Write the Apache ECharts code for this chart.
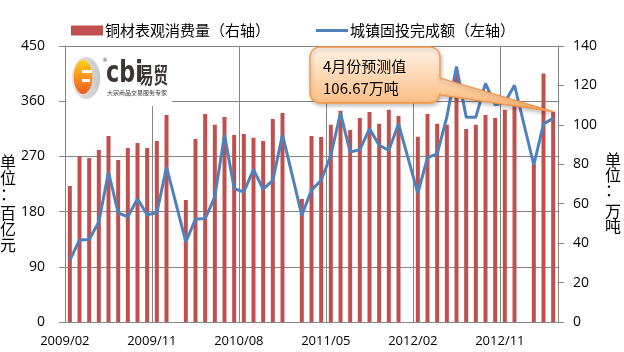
<!DOCTYPE html>
<html>
<head>
<meta charset="utf-8">
<script src="https://cdn.jsdelivr.net/npm/echarts@6/dist/echarts.min.js"></script>
<style>
html, body { margin: 0; padding: 0; background: #fff; }
#main { width: 624px; height: 352px; }
</style>
</head>
<body>
<div id="main"></div>
<script>
var months = [
    '2009/02', '2009/03', '2009/04', '2009/05', '2009/06', '2009/07', '2009/08', '2009/09', '2009/10', '2009/11', '2009/12',
    '2010/01', '2010/02', '2010/03', '2010/04', '2010/05', '2010/06', '2010/07', '2010/08', '2010/09', '2010/10', '2010/11', '2010/12',
    '2011/01', '2011/02', '2011/03', '2011/04', '2011/05', '2011/06', '2011/07', '2011/08', '2011/09', '2011/10', '2011/11', '2011/12',
    '2012/01', '2012/02', '2012/03', '2012/04', '2012/05', '2012/06', '2012/07', '2012/08', '2012/09', '2012/10', '2012/11', '2012/12',
    '2013/01', '2013/02', '2013/03', '2013/04'
];
// 铜材表观消费量, 万吨 (right axis); January has no separate figure
var copperUse = [
    69, 84.2, 83.2, 87.3, 94.4, 82.2, 88.3, 90.8, 88.3, 91.8, 105,
    null, 61.9, 92.8, 105.5, 100, 104, 94.9, 95.4, 93.4, 91.8, 103, 106,
    null, 62.4, 94.4, 93.9, 100, 107.2, 97.4, 103.5, 106.5, 100.5, 107.6, 104.5,
    null, 94, 105.5, 100.5, 100, 125.5, 97.9, 100, 105, 103.5, 107.6, 109.6,
    null, 80, 126, 106.67
];
// 城镇固投完成额, 百亿元 (left axis)
var urbanInvest = [
    101, 133.5, 134.6, 163, 244.6, 178, 171.4, 201, 175, 178, 252.8,
    null, 130.7, 167.6, 168.7, 204, 305.5, 217.6, 212, 248.5, 216.5, 231, 305.5,
    null, 174, 215, 231, 272, 340.7, 277, 281, 315, 288, 280, 323,
    null, 210, 268, 274, 334, 416.7, 334, 334, 389, 354, 358, 386,
    null, 256, 323, 332
];
var leftTicks = [0, 90, 180, 270, 360, 450];
var rightTicks = [0, 20, 40, 60, 80, 100, 120, 140];

var barName = '铜材表观消费量（右轴）';
var lineName = '城镇固投完成额（左轴）';

var chartDom = document.getElementById('main');
var myChart = echarts.init(chartDom);
var axisGray = '#868686';
var numFont = 'Open Sans';
var cjkFont = 'Noto Sans CJK SC';

var option = {
    animation: false,
    legend: {
        left: 66,
        top: 18,
        itemWidth: 32,
        itemHeight: 10,
        itemGap: 46,
        textStyle: { fontSize: 15, fontFamily: cjkFont, color: '#000', padding: [0, 0, 0, -3] },
        data: [
            { name: barName, icon: 'rect' },
            { name: lineName, icon: 'path://M0,0 L32,0 L32,3 L0,3 Z' }
        ]
    },
    grid: { left: 65, right: 66, top: 46, bottom: 30 },
    xAxis: {
        type: 'category',
        data: months,
        boundaryGap: true,
        axisLine: { lineStyle: { color: axisGray } },
        axisTick: { interval: 8, length: 5, lineStyle: { color: axisGray } },
        axisLabel: {
            interval: 8, color: '#000', fontSize: 13, fontFamily: numFont,
            margin: 13, padding: [0, 10, 0, 0]
        },
        splitLine: { show: true, interval: 8, lineStyle: { color: axisGray } }
    },
    yAxis: [
        {
            type: 'value',
            min: leftTicks[0],
            max: leftTicks[leftTicks.length - 1],
            interval: leftTicks[1] - leftTicks[0],
            axisLine: { show: true, lineStyle: { color: axisGray } },
            axisTick: { show: true, length: 6, lineStyle: { color: axisGray } },
            axisLabel: { margin: 20, color: '#000', fontSize: 14, fontFamily: numFont },
            splitLine: { lineStyle: { color: axisGray } }
        },
        {
            type: 'value',
            min: rightTicks[0],
            max: rightTicks[rightTicks.length - 1],
            interval: rightTicks[1] - rightTicks[0],
            axisLine: { show: true, lineStyle: { color: axisGray } },
            axisTick: { show: true, length: 6, lineStyle: { color: axisGray } },
            axisLabel: { margin: 15, color: '#000', fontSize: 14, fontFamily: numFont },
            splitLine: { show: false }
        }
    ],
    series: [
        {
            name: barName,
            type: 'bar',
            yAxisIndex: 1,
            data: copperUse,
            barWidth: 4,
            itemStyle: { color: '#C0504D' }
        },
        {
            name: lineName,
            type: 'line',
            yAxisIndex: 0,
            data: urbanInvest,
            connectNulls: true,
            symbol: 'none',
            z: 3,
            lineStyle: { color: '#4F81BD', width: 3 },
            itemStyle: { color: '#4F81BD' }
        }
    ]
};

myChart.setOption(option);

// callout pointing at the April forecast bar
var last = copperUse.length - 1;
var tip = myChart.convertToPixel({ xAxisIndex: 0, yAxisIndex: 1 }, [months[last], copperUse[last]]);

function arcPts(cx, cy, r, a0, a1) {
    var pts = [];
    for (var k = 0; k <= 6; k++) {
        var a = a0 + (a1 - a0) * k / 6;
        pts.push([cx + r * Math.cos(a), cy + r * Math.sin(a)]);
    }
    return pts;
}
var bx1 = 310, by1 = 47, bx2 = 440, by2 = 103, br = 10;
var PI = Math.PI;
var callout = [].concat(
    arcPts(bx1 + br, by1 + br, br, PI, 1.5 * PI),
    arcPts(bx2 - br, by1 + br, br, 1.5 * PI, 2 * PI),
    [[bx2, 78], tip, [bx2, 95]],
    arcPts(bx2 - br, by2 - br, br, 0, 0.5 * PI),
    arcPts(bx1 + br, by2 - br, br, 0.5 * PI, PI)
);

myChart.setOption({
    graphic: [
        // logo
        { type: 'rect', z: 5, shape: { x: 66, y: 47, width: 106, height: 59 }, style: { fill: '#fff' } },
        {
            type: 'circle', z: 6, x: 86, y: 78, scaleX: 0.68,
            shape: { cx: 0, cy: 0, r: 21 },
            style: {
                fill: { type: 'linear', x: 0, y: 0, x2: 1, y2: 0,
                    colorStops: [{ offset: 0, color: '#e8e8e8' }, { offset: 1, color: '#c8c8c8' }] }
            }
        },
        {
            type: 'circle', z: 7, x: 83, y: 77, scaleX: 0.55,
            shape: { cx: 0, cy: 0, r: 17 },
            style: {
                fill: { type: 'linear', x: 0, y: 0, x2: 0, y2: 1,
                    colorStops: [{ offset: 0, color: '#fcd116' }, { offset: 0.5, color: '#f7941d' }, { offset: 1, color: '#f15a24' }] }
            }
        },
        { type: 'rect', z: 8, shape: { x: 82, y: 70, width: 10, height: 3 }, style: { fill: '#fff' } },
        { type: 'rect', z: 8, shape: { x: 82, y: 79, width: 8, height: 3 }, style: { fill: '#fff' } },
        {
            type: 'text', z: 8, x: 106, y: 74, scaleX: 0.72,
            style: { text: 'cbi', font: 'bold 31px "DejaVu Sans"', fill: '#3b3535', textVerticalAlign: 'middle' }
        },
        {
            type: 'text', z: 8, x: 139, y: 75, scaleX: 0.66,
            style: { text: '易贸', font: 'bold 22px "Noto Sans CJK SC"', fill: '#3b3535', textVerticalAlign: 'middle' }
        },
        {
            type: 'text', z: 8, x: 102, y: 60,
            style: { text: '®', font: '6px "DejaVu Sans"', fill: '#555', textVerticalAlign: 'middle' }
        },
        {
            type: 'text', z: 8, x: 107, y: 93,
            style: { text: '大宗商品交易服务专家', font: '6px "Noto Sans CJK SC"', fill: '#333', textVerticalAlign: 'middle' }
        },
        // callout
        {
            type: 'polygon', z: 20,
            shape: { points: callout },
            style: {
                fill: { type: 'linear', x: 0, y: 0, x2: 0, y2: 1,
                    colorStops: [{ offset: 0, color: '#fff3e8' }, { offset: 0.85, color: '#fcbf85' }, { offset: 1, color: '#fbb06a' }] },
                stroke: '#f79646',
                lineWidth: 1.3,
                shadowBlur: 4,
                shadowOffsetX: 1,
                shadowOffsetY: 2,
                shadowColor: 'rgba(0,0,0,0.25)'
            }
        },
        {
            type: 'text', z: 21, x: 323, y: 66,
            style: { text: '4月份预测值', font: '15px "Noto Sans CJK SC"', fill: '#000', textVerticalAlign: 'middle' }
        },
        {
            type: 'text', z: 21, x: 323, y: 88,
            style: { text: copperUse[last] + '万吨', font: '15px "Noto Sans CJK SC"', fill: '#000', textVerticalAlign: 'middle' }
        },
        // axis unit titles
        {
            type: 'text', z: 8, x: 0, y: 154,
            style: { text: '单\n位\n：', font: '16px "Noto Sans CJK SC"', lineHeight: 16, fill: '#000' }
        },
        {
            type: 'text', z: 8, x: 0, y: 205,
            style: { text: '百\n亿\n元', font: '16px "Noto Sans CJK SC"', lineHeight: 16, fill: '#000' }
        },
        {
            type: 'text', z: 8, x: 605, y: 152,
            style: { text: '单\n位\n：', font: '16px "Noto Sans CJK SC"', lineHeight: 15, fill: '#000' }
        },
        {
            type: 'text', z: 8, x: 605, y: 203,
            style: { text: '万\n吨', font: '16px "Noto Sans CJK SC"', lineHeight: 15, fill: '#000' }
        }
    ]
});
</script>
</body>
</html>
